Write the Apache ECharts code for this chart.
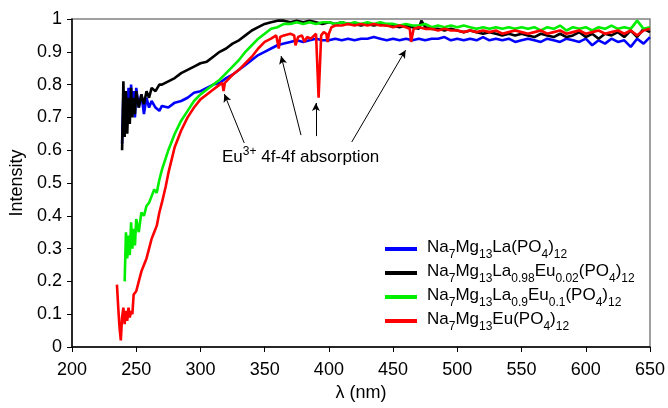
<!DOCTYPE html>
<html>
<head>
<meta charset="utf-8">
<script src="https://cdn.jsdelivr.net/npm/echarts@6/dist/echarts.min.js"></script>
<style>
html,body{margin:0;padding:0;background:#fff;}
#c{width:668px;height:408px;}
</style>
</head>
<body>
<div id="c"></div>
<script>
// ---- data ----
var seriesNames = ['Na7Mg13La(PO4)12', 'Na7Mg13La0.98Eu0.02(PO4)12', 'Na7Mg13La0.9Eu0.1(PO4)12', 'Na7Mg13Eu(PO4)12'];
var seriesColors = ['#0000ff', '#000000', '#00ee00', '#ff0000'];

var blueX = [239,240,241,242,243,244,245,246,247,248,249,250,252,254,256,258,260,262,265,268,270,275,280,285,290,295,300,305,310,315,320,325,330,335,340,345,350,355,360,365,370,375,380,385,390,395,400,405,410,415,420,425,430,435,440,445,450,455,460,465,470,475,480,485,490,495,500,505,510,515,520,525,530,535,540,545,550,555,560,565,570,575,580,585,590,595,600,605,610,615,620,625,630,635,640,645,650];
var blueY = [0.62,0.77,0.66,0.74,0.68,0.79,0.70,0.80,0.72,0.78,0.70,0.79,0.73,0.77,0.71,0.76,0.73,0.75,0.73,0.72,0.735,0.73,0.745,0.75,0.76,0.775,0.78,0.79,0.80,0.805,0.82,0.83,0.845,0.86,0.875,0.89,0.90,0.91,0.92,0.925,0.93,0.935,0.93,0.935,0.94,0.935,0.935,0.94,0.935,0.94,0.935,0.94,0.94,0.945,0.94,0.935,0.94,0.935,0.94,0.935,0.94,0.935,0.94,0.94,0.945,0.935,0.94,0.935,0.94,0.935,0.945,0.935,0.94,0.935,0.94,0.93,0.935,0.94,0.935,0.93,0.94,0.935,0.93,0.94,0.935,0.93,0.94,0.92,0.935,0.925,0.94,0.93,0.935,0.915,0.94,0.925,0.945];

var blackX = [239,240,241,242,243,244,245,246,247,248,249,250,252,254,256,258,260,262,265,268,270,275,280,285,290,295,300,305,310,315,320,325,330,335,340,345,350,355,360,365,370,375,380,385,390,395,400,405,410,415,420,425,430,435,440,445,450,455,460,465,470,472,475,480,485,490,495,500,505,510,515,520,525,530,535,540,545,550,555,560,565,570,575,580,585,590,595,600,605,610,615,620,625,630,635,640,645,650];
var blackY = [0.60,0.81,0.64,0.78,0.65,0.76,0.68,0.79,0.70,0.76,0.71,0.78,0.73,0.77,0.74,0.78,0.76,0.79,0.78,0.80,0.80,0.81,0.82,0.835,0.845,0.855,0.865,0.87,0.885,0.90,0.91,0.925,0.935,0.95,0.965,0.975,0.985,0.99,0.995,0.995,0.99,0.995,0.99,0.995,0.99,0.985,0.99,0.985,0.99,0.985,0.985,0.98,0.985,0.98,0.985,0.98,0.98,0.975,0.98,0.975,0.97,0.995,0.975,0.97,0.97,0.965,0.97,0.965,0.96,0.965,0.96,0.955,0.96,0.955,0.95,0.955,0.95,0.955,0.95,0.945,0.955,0.95,0.945,0.955,0.945,0.95,0.96,0.945,0.955,0.94,0.955,0.95,0.96,0.945,0.965,0.945,0.97,0.96];

var greenX = [241,242,243,244,245,246,247,248,249,250,252,254,256,258,260,262,264,266,268,270,275,280,285,290,295,300,305,310,315,320,325,330,335,340,345,350,355,360,365,370,375,380,385,390,395,400,405,410,415,420,425,430,435,440,445,450,455,460,465,470,475,480,485,490,495,500,505,510,515,520,525,530,535,540,545,550,555,560,565,570,575,580,585,590,595,600,605,610,615,620,625,630,635,640,645,650];
var greenY = [0.20,0.35,0.27,0.34,0.28,0.38,0.30,0.36,0.31,0.39,0.35,0.41,0.40,0.43,0.44,0.46,0.48,0.47,0.51,0.54,0.60,0.65,0.69,0.72,0.75,0.77,0.785,0.80,0.815,0.835,0.855,0.875,0.90,0.92,0.94,0.955,0.97,0.975,0.985,0.985,0.99,0.985,0.99,0.985,0.99,0.99,0.985,0.99,0.985,0.99,0.985,0.99,0.985,0.99,0.985,0.985,0.98,0.985,0.98,0.98,0.985,0.975,0.98,0.975,0.98,0.975,0.98,0.975,0.97,0.975,0.97,0.975,0.97,0.975,0.97,0.975,0.97,0.975,0.965,0.975,0.97,0.98,0.965,0.975,0.97,0.975,0.965,0.975,0.97,0.98,0.97,0.975,0.97,0.995,0.97,0.975];

var redX = [235,236,237,238,239,240,241,242,243,244,245,246,247,248,250,252,254,256,258,260,262,264,266,268,270,273,275,280,285,290,295,300,305,310,315,317,318,319,320,325,330,335,340,345,350,355,359,361,362,365,370,373,374,376,379,381,383,386,390,391,392,393,394,396,398,399,400,402,405,410,415,420,425,430,435,440,445,450,455,460,463,464,465,466,470,475,480,485,490,495,500,505,510,515,520,525,530,535,540,545,550,555,560,565,570,575,580,585,590,595,600,605,610,615,620,625,630,635,640,645,650];
var redY = [0.19,0.12,0.06,0.02,0.09,0.12,0.07,0.11,0.08,0.12,0.09,0.11,0.10,0.16,0.17,0.20,0.23,0.25,0.27,0.30,0.33,0.35,0.37,0.41,0.44,0.49,0.53,0.61,0.66,0.70,0.73,0.755,0.77,0.785,0.80,0.805,0.78,0.805,0.81,0.83,0.845,0.865,0.885,0.91,0.93,0.94,0.95,0.91,0.945,0.95,0.955,0.95,0.92,0.945,0.95,0.93,0.945,0.94,0.955,0.95,0.76,0.76,0.95,0.96,0.955,0.93,0.955,0.975,0.98,0.98,0.985,0.98,0.985,0.98,0.985,0.98,0.98,0.975,0.98,0.975,0.97,0.93,0.93,0.97,0.975,0.97,0.97,0.965,0.97,0.965,0.965,0.96,0.965,0.96,0.965,0.96,0.965,0.955,0.96,0.965,0.96,0.955,0.96,0.965,0.955,0.96,0.965,0.955,0.96,0.965,0.955,0.96,0.965,0.955,0.96,0.965,0.955,0.965,0.95,0.965,0.97];

var xTicks = [200,250,300,350,400,450,500,550,600,650];
var yTicks = [0,0.1,0.2,0.3,0.4,0.5,0.6,0.7,0.8,0.9,1];

// annotation arrows: [startX, startY, endX, endY] in data units
var arrows = [
  [334.1, 0.622, 318.6, 0.771],
  [378.3, 0.646, 362.8, 0.887],
  [389.9, 0.643, 389.9, 0.744],
  [417.8, 0.625, 459.7, 0.905]
];
var annotationText = ['Eu', '3+', ' 4f-4f absorption'];

// ---- build ----
function zip(xs, ys){ var o=[]; for(var i=0;i<xs.length;i++) o.push([xs[i], ys[i]]); return o; }
var allX = [blueX, blackX, greenX, redX];
var allY = [blueY, blackY, greenY, redY];
var FONT = "'Liberation Sans', Arial, sans-serif";

function richName(name){
  var out = '{g|}';
  var re = /([\d.]+)|([^\d.]+)/g, m;
  while((m = re.exec(name))){
    if(m[1]) out += '{s|' + m[1] + '}';
    else out += '{n|' + m[2] + '}';
  }
  return out;
}

var series = seriesNames.map(function(n, i){
  return {
    name: n, type: 'line', data: zip(allX[i], allY[i]),
    showSymbol: false, symbol: 'none',
    lineStyle: {color: seriesColors[i], width: 2.6},
    itemStyle: {color: seriesColors[i]},
    animation: false, z: 2 + i
  };
});
series.push({
  type: 'line', data: [], silent: true, animation: false,
  markLine: {
    silent: true, animation: false,
    symbol: ['none', 'arrow'], symbolSize: [6, 8],
    label: {show: false},
    lineStyle: {color: '#000', width: 1, type: 'solid'},
    emphasis: {disabled: true},
    data: arrows.map(function(a){ return [{coord: [a[0], a[1]]}, {coord: [a[2], a[3]]}]; })
  }
});

var chart = echarts.init(document.getElementById('c'), null, {renderer: 'canvas'});
chart.setOption({
  backgroundColor: '#fff',
  animation: false,
  textStyle: {fontFamily: FONT},
  grid: {left: 72, right: 16, top: 19, bottom: 61, show: true, borderColor: '#808080', borderWidth: 1.5, backgroundColor: 'transparent'},
  xAxis: {
    type: 'value', min: xTicks[0], max: xTicks[xTicks.length-1], interval: 50,
    name: 'λ (nm)', nameLocation: 'middle', nameGap: 36,
    nameTextStyle: {fontFamily: FONT, fontSize: 18, color: '#000'},
    axisLine: {show: true, onZero: false, lineStyle: {color: '#000', width: 1.5}},
    axisTick: {show: true, inside: false, length: 5, lineStyle: {color: '#000'}},
    axisLabel: {color: '#000', fontSize: 18, fontFamily: FONT, margin: 14},
    splitLine: {show: false}
  },
  yAxis: {
    type: 'value', min: yTicks[0], max: yTicks[yTicks.length-1], interval: 0.1,
    name: 'Intensity', nameLocation: 'middle', nameGap: 43, nameRotate: 90,
    nameTextStyle: {fontFamily: FONT, fontSize: 18, color: '#000'},
    axisLine: {show: true, onZero: false, lineStyle: {color: '#000', width: 1.5}},
    axisTick: {show: true, inside: false, length: 5, lineStyle: {color: '#000'}},
    axisLabel: {color: '#000', fontSize: 18, fontFamily: FONT, margin: 10,
      formatter: function(v){ return String(Math.round(v*10)/10); }},
    splitLine: {show: false}
  },
  legend: {
    orient: 'vertical', left: 380, top: 234,
    icon: 'rect', itemWidth: 32, itemHeight: 4, itemGap: 2,
    data: seriesNames,
    formatter: richName,
    textStyle: {
      color: '#000', fontFamily: FONT,
      rich: {
        g: {width: 5},
        n: {fontSize: 17, lineHeight: 20, verticalAlign: 'top', color: '#000', fontFamily: FONT},
        s: {fontSize: 12, lineHeight: 12, padding: [10, 0, 0, 0], verticalAlign: 'top', color: '#000', fontFamily: FONT}
      }
    }
  },
  graphic: [{
    type: 'text', left: 222, top: 146, silent: true,
    style: {
      text: '{n|' + annotationText[0] + '}{p|' + annotationText[1] + '}{n|' + annotationText[2] + '}',
      fill: '#000', font: '17px ' + FONT,
      rich: {
        n: {fontSize: 17, lineHeight: 20, verticalAlign: 'bottom', fontFamily: FONT},
        p: {fontSize: 12, lineHeight: 12, padding: [0, 0, 8, 0], verticalAlign: 'bottom', fontFamily: FONT}
      }
    }
  }],
  series: series
});
</script>
</body>
</html>
